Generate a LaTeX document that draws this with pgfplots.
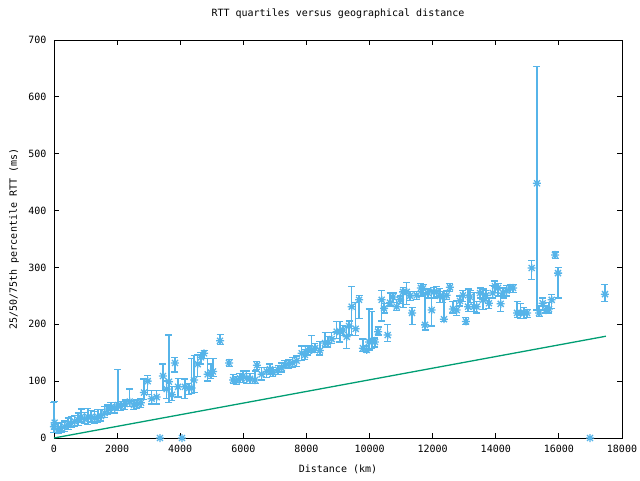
\documentclass[border=0pt]{standalone}
\usepackage{fontspec}
\setmainfont{DejaVu Sans Mono}
\usepackage{pgfplots}
\usepackage{pgfplotstable}
\pgfplotsset{compat=1.18}
\definecolor{gpblue}{HTML}{56B4E9}
\definecolor{gpgreen}{HTML}{009E73}
\pgfdeclareplotmark{gstar}{%
  \pgfpathmoveto{\pgfqpoint{-\pgfplotmarksize}{0pt}}\pgfpathlineto{\pgfqpoint{\pgfplotmarksize}{0pt}}%
  \pgfpathmoveto{\pgfqpoint{0pt}{-\pgfplotmarksize}}\pgfpathlineto{\pgfqpoint{0pt}{\pgfplotmarksize}}%
  \pgfpathmoveto{\pgfqpoint{-0.75\pgfplotmarksize}{-0.75\pgfplotmarksize}}\pgfpathlineto{\pgfqpoint{0.75\pgfplotmarksize}{0.75\pgfplotmarksize}}%
  \pgfpathmoveto{\pgfqpoint{-0.75\pgfplotmarksize}{0.75\pgfplotmarksize}}\pgfpathlineto{\pgfqpoint{0.75\pgfplotmarksize}{-0.75\pgfplotmarksize}}%
  \pgfusepathqstroke}
\pgfplotstableread{
d m lo hi
0 20 10 62
20 27 15 64
127 14 8 25
222 17 10 27
339 20 12 30
444 23 15 35
539 26 18 38
656 29 20 40
761 32 22 44
856 37 28 51
973 33 25 45
1077 37 24 52
1173 37 28 48
1290 35 26 46
1394 37 28 50
1489 39 30 50
1607 44 36 55
1711 51 42 58
1806 54 45 62
1924 53 44 62
2028 58 48 121
2123 56 48 64
2250 60 50 67
2399 64 55 86
2535 58 50 66
2630 60 52 68
2757 62 54 70
2852 80 68 104
2970 100 76 110
3096 69 60 84
3255 72 60 84
3454 109 84 130
3571 86 70 100
3644 99 62 181
3739 76 66 90
3834 132 116 141
3930 90 72 105
4151 90 70 104
4278 88 76 96
4364 88 78 140
4437 102 80 145
4554 130 108 146
4658 142 130 150
4754 149 140 154
4871 112 100 140
4975 115 105 130
5039 117 108 140
5261 171 164 182
5546 132 126 138
5673 102 96 112
5790 101 94 108
5894 105 98 114
5990 109 98 118
6107 105 96 118
6212 104 96 114
6370 102 96 118
6433 128 120 134
6582 112 102 124
6741 117 106 124
6845 121 112 130
6940 115 108 124
7099 120 112 128
7216 123 116 132
7320 128 124 136
7447 130 122 138
7564 132 124 142
7691 136 126 144
7850 149 136 162
7954 146 138 156
8049 154 146 162
8166 155 150 180
8271 158 150 166
8429 154 146 170
8588 167 160 186
8683 168 160 178
8800 174 166 186
8959 187 175 205
9063 187 169 205
9158 190 180 198
9276 178 158 196
9349 197 182 206
9434 231 180 266
9561 192 180 238
9666 243 210 251
9792 158 152 174
9910 155 150 162
9983 169 155 227
10077 172 157 222
10172 169 160 176
10268 187 181 195
10385 243 206 259
10458 228 220 236
10575 181 170 200
10648 238 232 255
10743 248 238 255
10860 231 224 244
10965 243 236 250
11060 257 229 265
11177 257 235 274
11282 250 242 258
11345 220 200 230
11494 251 244 258
11630 264 250 272
11694 263 252 270
11757 199 190 255
11852 255 246 262
11969 225 197 259
12042 257 246 265
12128 257 248 266
12232 250 238 263
12327 248 238 258
12359 209 205 250
12445 251 244 260
12549 265 258 272
12644 227 220 240
12762 225 215 242
12866 241 232 250
12961 251 240 260
13056 205 200 212
13120 231 222 262
13183 248 238 260
13310 231 222 256
13396 231 220 240
13500 255 246 264
13595 243 226 262
13690 251 242 260
13785 237 228 246
13902 255 246 268
13975 267 256 276
14071 264 250 272
14156 236 222 254
14229 255 246 264
14346 259 250 268
14451 264 256 270
14546 264 256 270
14673 220 212 240
14790 220 210 236
14894 220 210 230
14990 220 212 226
15138 299 279 312
15306 448 225 653
15370 220 214 232
15487 237 225 246
15591 225 220 232
15686 227 220 238
15772 243 228 252
15877 322 316 327
15972 290 246 300
17461 253 240 270
}\quartiles
\pgfplotstableread{
d m
3359 0
4056 0
16986 0
}\zeros
\begin{document}
\begin{tikzpicture}[x=1pt,y=1pt]
\useasboundingbox (0,0) rectangle (640,480);
\begin{axis}[
  at={(54pt,42pt)}, anchor=south west,
  scale only axis, width=568pt, height=398pt,
  xmin=0, xmax=18000, ymin=0, ymax=700,
  xtick={0,2000,...,18000}, ytick={0,100,...,700},
  scaled x ticks=false,
  tick align=inside, major tick length=5pt,
  every tick/.style={black, line width=0.9pt},
  axis line style={black, line width=0.9pt},
  font=\fontsize{10pt}{12pt}\selectfont,
  /pgf/number format/assume math mode=true,
  /pgf/number format/1000 sep={},
  xticklabel style={yshift=-4pt},
  yticklabel style={xshift=-4pt},
  title={RTT quartiles versus geographical distance},
  title style={at={(axis description cs:0.5,1.05)}, anchor=center},
  xlabel={Distance (km)},
  xlabel style={at={(axis description cs:0.5,-0.08)}, anchor=center},
  ylabel={25/50/75th percentile RTT (ms)},
  ylabel style={at={(axis description cs:-0.0704,0.5)}, anchor=center},
  clip=false,
]
\addplot[gpgreen, line width=1.3pt] coordinates {(0,0) (17490,179)};
\addplot[gpblue, only marks, mark=gstar, mark size=4pt, line width=1.3pt,
  error bars/.cd, y dir=both, y explicit,
  error bar style={gpblue, line width=1.3pt},
  error mark options={gpblue, line width=1.3pt, mark size=3.5pt, rotate=90}]
  table[x=d, y=m,
    y error plus expr=\thisrow{hi}-\thisrow{m},
    y error minus expr=\thisrow{m}-\thisrow{lo}] {\quartiles};
\addplot[gpblue, only marks, mark=gstar, mark size=4pt, line width=1.3pt]
  table[x=d, y=m] {\zeros};
\end{axis}
\end{tikzpicture}
\end{document}
